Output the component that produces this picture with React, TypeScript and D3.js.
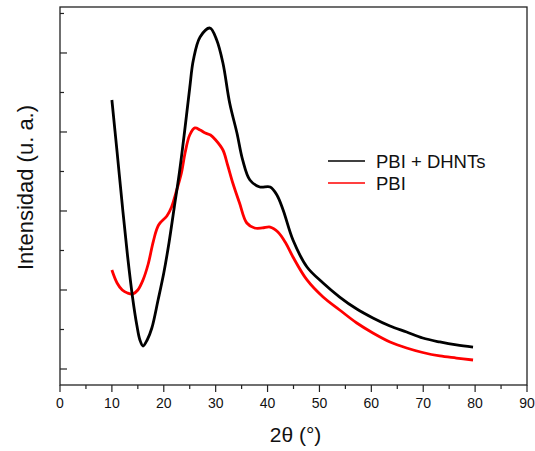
import React from "react";
import * as d3 from "d3";

// 2θ (degrees) and intensity (arbitrary units)
const compositeX = [10, 11, 12, 13, 14, 14.8, 15.4, 16, 16.8, 17.7, 18.9, 20, 21, 22, 23, 24, 25, 25.7, 27, 28.9, 30.2, 31.4, 32.7, 34.1, 35.2, 36.6, 38.5, 40.5, 41.8, 43, 44.9, 47.6, 50.7, 53.9, 57.2, 60.3, 63.6, 66.8, 69.9, 73.2, 76.4, 79.6];
const compositeY = [3.405, 2.747, 2.076, 1.443, 0.899, 0.557, 0.367, 0.291, 0.367, 0.519, 0.873, 1.215, 1.595, 2.038, 2.481, 3.0, 3.557, 3.911, 4.203, 4.316, 4.165, 3.873, 3.367, 2.987, 2.646, 2.392, 2.304, 2.304, 2.203, 2.013, 1.633, 1.291, 1.089, 0.911, 0.759, 0.646, 0.544, 0.468, 0.392, 0.342, 0.304, 0.278];

const pbiX = [10, 11, 12, 13, 14, 15, 16, 17, 18, 19, 20.6, 21.5, 22.5, 23.4, 24.1, 25, 26, 27, 28, 29, 30, 31.4, 32.3, 33.3, 34.6, 36, 37.5, 39, 40.5, 42, 43.5, 44.9, 47.6, 50.7, 53.9, 57.2, 60.3, 63.6, 66.8, 69.9, 73.2, 76.4, 79.6];
const pbiY = [1.253, 1.089, 1.0, 0.962, 0.949, 1.0, 1.127, 1.329, 1.62, 1.823, 1.937, 2.051, 2.266, 2.481, 2.734, 2.962, 3.051, 3.025, 2.987, 2.962, 2.899, 2.772, 2.582, 2.354, 2.101, 1.848, 1.785, 1.785, 1.797, 1.734, 1.595, 1.418, 1.127, 0.911, 0.747, 0.582, 0.456, 0.342, 0.266, 0.209, 0.165, 0.139, 0.114];

const seriesNames = ["PBI + DHNTs", "PBI"];
const seriesColors = ["#000000", "#ff0000"];

const xMajorTicks = [0, 10, 20, 30, 40, 50, 60, 70, 80, 90];
const xMinorTicks = [5, 15, 25, 35, 45, 55, 65, 75, 85];
const yMajorTicks = [0, 1, 2, 3, 4];
const yMinorTicks = [0.5, 1.5, 2.5, 3.5, 4.5];

const xTitle = "2θ (°)";
const yTitle = "Intensidad (u. a.)";

export default function App() {
  const W = 535, H = 451;
  const left = 60, right = 527, top = 7, bottom = 385;
  const x = d3.scaleLinear().domain([0, 90]).range([left, right]);
  const y = d3.scaleLinear().domain([-0.2025, 4.582]).range([bottom, top]);

  const line = d3
    .line<[number, number]>()
    .x((d) => x(d[0]))
    .y((d) => y(d[1]))
    .curve(d3.curveCatmullRom.alpha(0.5));

  const comp: [number, number][] = compositeX.map((v, i) => [v, compositeY[i]]);
  const pbi: [number, number][] = pbiX.map((v, i) => [v, pbiY[i]]);

  const axisColor = "#222";
  const font = "Arial, 'Liberation Sans', sans-serif";

  return (
    <svg
      width={W}
      height={H}
      style={{ position: "absolute", left: 0, top: 0, background: "#fff" }}
      fontFamily={font}
    >
      {/* curves */}
      <path d={line(pbi) || ""} fill="none" stroke={seriesColors[1]} strokeWidth={2.8} strokeLinejoin="round" />
      <path d={line(comp) || ""} fill="none" stroke={seriesColors[0]} strokeWidth={2.8} strokeLinejoin="round" />

      {/* frame */}
      <rect x={left} y={top} width={right - left} height={bottom - top} fill="none" stroke={axisColor} strokeWidth={1.3} />

      {/* x ticks (outside) */}
      {xMajorTicks.map((t) => (
        <g key={"xM" + t}>
          <line x1={x(t)} x2={x(t)} y1={bottom} y2={bottom + 7} stroke={axisColor} strokeWidth={1.2} />
          <text x={x(t)} y={408} textAnchor="middle" fontSize={14} fill="#111">
            {t}
          </text>
        </g>
      ))}
      {xMinorTicks.map((t) => (
        <line key={"xm" + t} x1={x(t)} x2={x(t)} y1={bottom} y2={bottom + 4} stroke={axisColor} strokeWidth={1.2} />
      ))}

      {/* y ticks (inside) */}
      {yMajorTicks.map((t) => (
        <line key={"yM" + t} x1={left} x2={left + 7} y1={y(t)} y2={y(t)} stroke={axisColor} strokeWidth={1.2} />
      ))}
      {yMinorTicks.map((t) => (
        <line key={"ym" + t} x1={left} x2={left + 4} y1={y(t)} y2={y(t)} stroke={axisColor} strokeWidth={1.2} />
      ))}

      {/* axis titles */}
      <text x={295.5} y={442} textAnchor="middle" fontSize={21} fill="#111">
        {xTitle}
      </text>
      <text
        transform={`translate(33, ${187.5}) rotate(-90)`}
        textAnchor="middle"
        fontSize={22}
        fill="#111"
      >
        {yTitle}
      </text>

      {/* legend */}
      {seriesNames.map((name, i) => (
        <g key={name}>
          <line x1={328} x2={365} y1={161 + i * 22} y2={161 + i * 22} stroke={seriesColors[i]} strokeWidth={1.5} />
          <text x={376} y={168 + i * 22} fontSize={18.5} fill="#111">
            {name}
          </text>
        </g>
      ))}
    </svg>
  );
}
